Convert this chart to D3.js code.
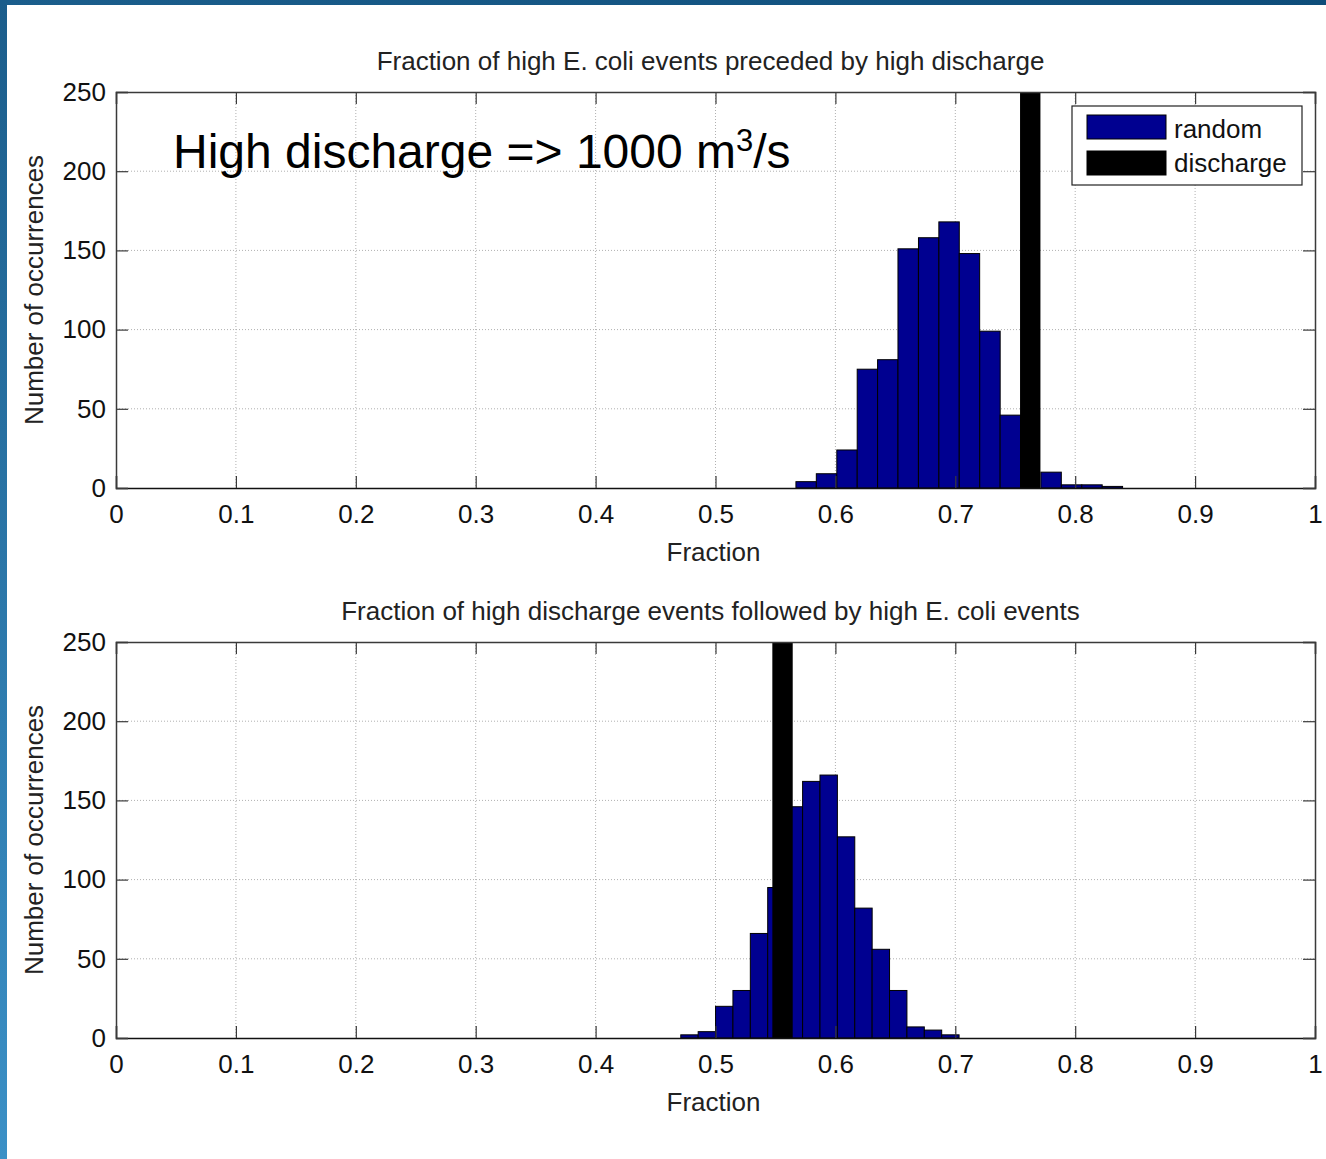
<!DOCTYPE html>
<html>
<head>
<meta charset="utf-8">
<script src="https://cdn.jsdelivr.net/npm/d3@7"></script>
<style>
  body { margin: 0; background: #fff; }
  svg { display: block; font-family: "Liberation Sans", Arial, sans-serif; }
</style>
</head>
<body>
<div id="chart"></div>
<script>
// tick values shared by both panels
var xTicks = [0, 0.1, 0.2, 0.3, 0.4, 0.5, 0.6, 0.7, 0.8, 0.9, 1];
var yTicks = [0, 50, 100, 150, 200, 250];

// top panel: random fractions (bin centres + counts) and observed discharge value
var topCenters = [0.5756, 0.5926, 0.6097, 0.6267, 0.6437, 0.6607, 0.6778, 0.6948, 0.7118, 0.7289, 0.7459, 0.7799, 0.7970, 0.8140, 0.8310];
var topCounts  = [4, 9, 24, 75, 81, 151, 158, 168, 148, 99, 46, 10, 2, 2, 1];
var topBinWidth = 0.01703;
var topDischarge = 0.7625;

// bottom panel
var bottomCenters = [0.4783, 0.4928, 0.5073, 0.5218, 0.5363, 0.5508, 0.5653, 0.5799, 0.5944, 0.6089, 0.6234, 0.6379, 0.6524, 0.6669, 0.6814, 0.6959];
var bottomCounts  = [2, 4, 20, 30, 66, 95, 146, 162, 166, 127, 82, 56, 30, 7, 5, 2];
var bottomBinWidth = 0.01451;
var bottomDischarge = 0.5559;

var dischargeWidth = 0.017;
var dischargeCount = 1000;   // bar runs off the top of the axes

var titles = ["Fraction of high E. coli events preceded by high discharge",
              "Fraction of high discharge events followed by high E. coli events"];
var legendLabels = ["random", "discharge"];

var width = 1326, height = 1159;
var svg = d3.select("#chart").append("svg")
    .attr("width", width)
    .attr("height", height);

// slide frame (blue bars on top and left)
var defs = svg.append("defs");
var grad = defs.append("linearGradient").attr("id", "leftbar")
    .attr("x1", 0).attr("y1", 0).attr("x2", 0).attr("y2", 1);
grad.append("stop").attr("offset", "0%").attr("stop-color", "#1b5d8b");
grad.append("stop").attr("offset", "100%").attr("stop-color", "#3b90c6");
var gradTop = defs.append("linearGradient").attr("id", "topbar");
gradTop.append("stop").attr("offset", "0%").attr("stop-color", "#1b5e8c");
gradTop.append("stop").attr("offset", "100%").attr("stop-color", "#0e4d7a");
svg.append("rect").attr("x", 0).attr("y", 0).attr("width", width).attr("height", 5).attr("fill", "url(#topbar)");
svg.append("rect").attr("x", 0).attr("y", 0).attr("width", 7).attr("height", height).attr("fill", "url(#leftbar)");

var left = 116, right = 1315;
var x = d3.scaleLinear().domain([0, 1]).range([left, right]);
var fs = 26;

function drawPanel(top, bottom, idx, centers, counts, binWidth, discharge) {
  var y = d3.scaleLinear().domain([0, 250]).range([bottom, top]);
  var g = svg.append("g");

  var clipId = "clip" + idx;
  defs.append("clipPath").attr("id", clipId)
    .append("rect").attr("x", left).attr("y", top)
    .attr("width", right - left).attr("height", bottom - top);

  // dotted grid
  g.append("g").selectAll("line").data(xTicks.slice(1, -1)).enter().append("line")
      .attr("x1", d => x(d)).attr("x2", d => x(d))
      .attr("y1", top).attr("y2", bottom)
      .attr("stroke", "#b0b0b0").attr("stroke-dasharray", "1,2");
  g.append("g").selectAll("line").data(yTicks.slice(1, -1)).enter().append("line")
      .attr("x1", left).attr("x2", right)
      .attr("y1", d => y(d)).attr("y2", d => y(d))
      .attr("stroke", "#b0b0b0").attr("stroke-dasharray", "1,2");

  var bars = g.append("g").attr("clip-path", "url(#" + clipId + ")");
  bars.selectAll("rect").data(centers).enter().append("rect")
      .attr("x", d => x(d - binWidth / 2))
      .attr("width", d => x(d + binWidth / 2) - x(d - binWidth / 2))
      .attr("y", (d, i) => y(counts[i]))
      .attr("height", (d, i) => y(0) - y(counts[i]))
      .attr("fill", "#000090")
      .attr("stroke", "#000").attr("stroke-width", 1);
  bars.append("rect")
      .attr("x", x(discharge - dischargeWidth / 2))
      .attr("width", x(discharge + dischargeWidth / 2) - x(discharge - dischargeWidth / 2))
      .attr("y", y(dischargeCount))
      .attr("height", y(0) - y(dischargeCount))
      .attr("fill", "#000");

  // axes with inward ticks on all four sides
  var tick = 12, axisColor = "#3a3a3a";
  var xb = d3.axisBottom(x).tickValues(xTicks).tickSize(-tick).tickPadding(17).tickFormat(d => String(d));
  var xt = d3.axisTop(x).tickValues(xTicks).tickSize(-tick).tickFormat("");
  var yl = d3.axisLeft(y).tickValues(yTicks).tickSize(-tick).tickPadding(10).tickFormat(d => String(d));
  var yr = d3.axisRight(y).tickValues(yTicks).tickSize(-tick).tickFormat("");

  var axB = g.append("g").attr("transform", "translate(0," + bottom + ")").call(xb);
  var axT = g.append("g").attr("transform", "translate(0," + top + ")").call(xt);
  var axL = g.append("g").attr("transform", "translate(" + left + ",0)").call(yl);
  var axR = g.append("g").attr("transform", "translate(" + right + ",0)").call(yr);
  [axB, axT, axL, axR].forEach(function(a) {
    a.select(".domain").attr("stroke", axisColor).attr("stroke-width", 1.5);
    a.selectAll(".tick line").attr("stroke", axisColor).attr("stroke-width", 1.2);
    a.selectAll(".tick text").attr("fill", "#111").attr("font-size", fs)
      .attr("font-family", "Liberation Sans, Arial, sans-serif");
  });
  axB.select(".domain").attr("stroke", "#111");

  // labels
  g.append("text").attr("x", (left + right) / 2 - 5).attr("y", top - 22)
      .attr("text-anchor", "middle").attr("font-size", fs).attr("fill", "#222")
      .text(titles[idx]);
  g.append("text").attr("x", (left + right) / 2 - 2).attr("y", bottom + 73)
      .attr("text-anchor", "middle").attr("font-size", fs).attr("fill", "#222")
      .text("Fraction");
  g.append("text")
      .attr("transform", "translate(43," + (top + bottom) / 2 + ") rotate(-90)")
      .attr("text-anchor", "middle").attr("font-size", fs).attr("fill", "#222")
      .text("Number of occurrences");
}

drawPanel(92, 488, 0, topCenters, topCounts, topBinWidth, topDischarge);
drawPanel(642, 1038, 1, bottomCenters, bottomCounts, bottomBinWidth, bottomDischarge);

// annotation in the top panel
var note = svg.append("text").attr("x", 173).attr("y", 168)
    .attr("font-size", 48).attr("fill", "#000");
note.append("tspan").text("High discharge => 1000 m");
note.append("tspan").attr("dy", -17).attr("font-size", 31).text("3");
note.append("tspan").attr("dy", 17).text("/s");

// legend
var lg = svg.append("g").attr("transform", "translate(1072,106)");
lg.append("rect").attr("width", 230).attr("height", 79)
    .attr("fill", "#fff").attr("stroke", "#222").attr("stroke-width", 1.2);
var legendFill = ["#000090", "#000"];
legendLabels.forEach(function(name, i) {
  lg.append("rect").attr("x", 15).attr("y", 9 + i * 36)
      .attr("width", 79).attr("height", 24)
      .attr("fill", legendFill[i]).attr("stroke", "#000");
  lg.append("text").attr("x", 102).attr("y", 32 + i * 34)
      .attr("font-size", fs).attr("fill", "#111").text(name);
});
</script>
</body>
</html>
